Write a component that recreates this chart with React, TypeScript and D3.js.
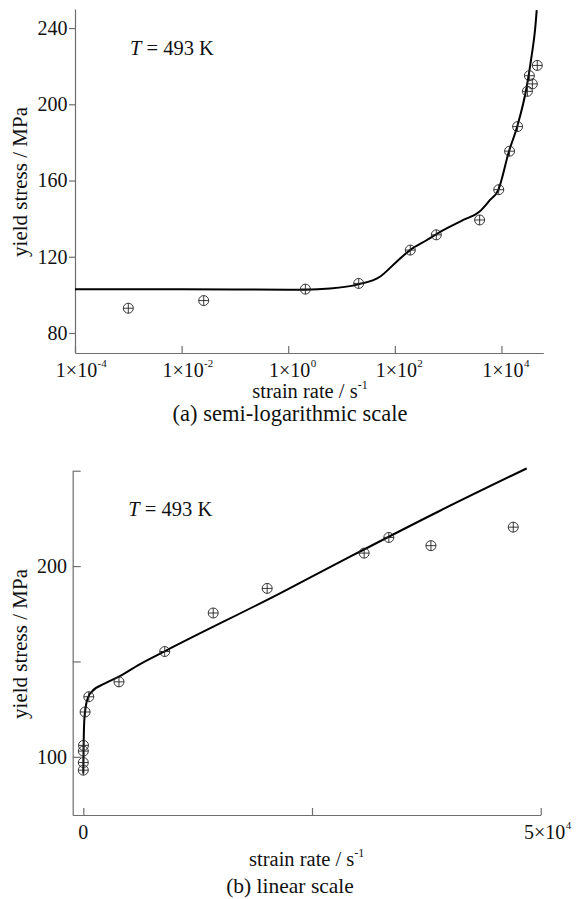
import { useEffect, useRef } from "react";
import * as d3 from "d3";

// measured points (same data in both panels)
const rate = [1e-3, 0.026, 2.1, 21, 195, 600, 3900, 8900, 14200, 20100, 30700, 33400, 38000, 47000];
const stress = [93, 97, 103, 106, 123.5, 131.5, 139.3, 155.2, 175.4, 188.3, 206.8, 215, 210.7, 220.4];

// model curve, panel (a)
const fitARate = [1e-4, 1e-2, 1, 2.07, 6.1, 20.6, 52.5, 108, 193, 400, 638, 1930, 3850, 6110, 8710, 13900, 19900, 29800, 37000, 42700, 45900];
const fitAStress = [102.9, 102.9, 102.7, 102.7, 103.3, 105.5, 109.5, 117.4, 123.5, 128.8, 132.3, 139.3, 143.6, 149.8, 155, 175.5, 188.6, 209.2, 225.8, 239, 249.4];

// model curve, panel (b)
const fitBRate = [0, 44, 109, 262, 547, 918, 2370, 4200, 6010, 9000, 21500, 29160, 38990, 48470];
const fitBStress = [91.3, 108.8, 119.2, 126.2, 131.5, 134.1, 138.5, 142.8, 148.1, 155.6, 185.7, 204.9, 229, 251.2];

const logTicks = [1e-4, 1e-2, 1, 1e2, 1e4];
const logExp = ["-4", "-2", "0", "2", "4"];
const yTicksA = [80, 120, 160, 200, 240];
const yTicksB = [100, 150, 200, 250];
const yLabelsB = [100, 200];
const xTicksB = [0, 25000, 50000];

const FONT = "Liberation Serif, Tinos, Times New Roman, DejaVu Serif, serif";
const AXIS = "#6e6e6e";

export default function App() {
  const svgRef = useRef<SVGSVGElement>(null);

  useEffect(() => {
    const svg = d3.select(svgRef.current);
    svg.selectAll("*").remove();

    const pts = rate.map((r, i) => ({ r, s: stress[i] }));

    const styleAxis = (ax: any) => {
      ax.select(".domain").attr("stroke", AXIS).attr("stroke-width", 1.2);
      ax.selectAll(".tick line").attr("stroke", AXIS).attr("stroke-width", 1.2);
      ax.selectAll("text").remove();
    };

    const marker = (g: any, cx: number, cy: number) => {
      const r = 5;
      const m = g.append("g").attr("stroke", "#222").attr("stroke-width", 0.9).attr("fill", "none");
      m.append("circle").attr("cx", cx).attr("cy", cy).attr("r", r);
      m.append("line").attr("x1", cx - r).attr("x2", cx + r).attr("y1", cy).attr("y2", cy);
      m.append("line").attr("x1", cx).attr("x2", cx).attr("y1", cy - r).attr("y2", cy + r);
    };

    const tempLabel = (x: number, y: number) => {
      const t = svg.append("text").attr("x", x).attr("y", y)
        .attr("font-family", FONT).attr("font-size", 20.5).attr("fill", "#111");
      t.append("tspan").attr("font-style", "italic").text("T");
      t.append("tspan").text(" = 493 K");
    };

    const xTitle = (cx: number, y: number) => {
      const t = svg.append("text").attr("x", cx).attr("y", y).attr("text-anchor", "middle")
        .attr("font-family", FONT).attr("font-size", 20.5).attr("fill", "#111");
      t.append("tspan").text("strain rate / s");
      t.append("tspan").attr("font-size", 12).attr("dy", -9).text("-1");
    };

    const yTitle = (cx: number, cy: number) => {
      svg.append("text").attr("transform", `translate(${cx},${cy}) rotate(-90)`)
        .attr("text-anchor", "middle").attr("font-family", FONT).attr("font-size", 21)
        .attr("fill", "#111").text("yield stress / MPa");
    };

    const caption = (cx: number, y: number, s: string, size: number) => {
      svg.append("text").attr("x", cx).attr("y", y).attr("text-anchor", "middle")
        .attr("font-family", FONT).attr("font-size", size).attr("fill", "#111").text(s);
    };

    // ---------- panel (a): semi-log ----------
    const xa = d3.scaleLog().domain([1e-4, 6.1e4]).range([75, 543.3]);
    const ya = d3.scaleLinear().domain([69.5, 250]).range([353, 9]);
    const ga = svg.append("g");

    ga.append("g").attr("transform", `translate(0,${ya.range()[0]})`)
      .call(d3.axisBottom(xa).tickValues(logTicks).tickSize(-7).tickSizeOuter(0).tickFormat(() => ""))
      .call(styleAxis);
    ga.append("g").attr("transform", `translate(${xa.range()[0]},0)`)
      .call(d3.axisLeft(ya).tickValues(yTicksA).tickSize(6).tickSizeOuter(0).tickFormat(() => ""))
      .call(styleAxis);

    logTicks.forEach((t, i) => {
      const cx = xa(t) + 1.5;
      ga.append("text").attr("x", cx).attr("y", 377).attr("text-anchor", "middle")
        .attr("font-family", FONT).attr("font-size", 20).attr("fill", "#111").text("1×10");
      ga.append("text").attr("x", cx + 21).attr("y", 367).attr("font-family", FONT)
        .attr("font-size", 11).attr("fill", "#111").text(logExp[i]);
    });
    yTicksA.forEach(t => {
      ga.append("text").attr("x", 67.5).attr("y", ya(t)).attr("dy", "0.34em").attr("text-anchor", "end")
        .attr("font-family", FONT).attr("font-size", 20).attr("fill", "#111").text(t);
    });

    const lineA = d3.line<number>().x((_, i) => xa(fitARate[i])).y(d => ya(d)).curve(d3.curveMonotoneX);
    ga.append("path").datum(fitAStress).attr("d", lineA).attr("fill", "none")
      .attr("stroke", "#000").attr("stroke-width", 2);
    pts.forEach(p => marker(ga, xa(p.r), ya(p.s)));

    tempLabel(130, 55);
    xTitle(310, 398);
    yTitle(27, 182);
    caption(290, 421, "(a) semi-logarithmic scale", 22.5);

    // ---------- panel (b): linear ----------
    const xb = d3.scaleLinear().domain([-1160, 50000]).range([72.7, 540.7]);
    const yb = d3.scaleLinear().domain([69.5, 250]).range([815, 470.7]);
    const gb = svg.append("g");

    gb.append("g").attr("transform", `translate(0,${yb.range()[0]})`)
      .call(d3.axisBottom(xb).tickValues(xTicksB).tickSize(-7).tickSizeOuter(0).tickFormat(() => ""))
      .call(styleAxis);
    gb.append("g").attr("transform", `translate(${xb.range()[0]},0)`)
      .call(d3.axisLeft(yb).tickValues(yTicksB).tickSize(-8).tickSizeOuter(0).tickFormat(() => ""))
      .call(styleAxis);

    yLabelsB.forEach(t => {
      gb.append("text").attr("x", 67).attr("y", yb(t)).attr("dy", "0.34em").attr("text-anchor", "end")
        .attr("font-family", FONT).attr("font-size", 20).attr("fill", "#111").text(t);
    });
    gb.append("text").attr("x", xb(0)).attr("y", 839).attr("text-anchor", "middle")
      .attr("font-family", FONT).attr("font-size", 20).attr("fill", "#111").text("0");
    gb.append("text").attr("x", xb(50000) + 4).attr("y", 839).attr("text-anchor", "middle")
      .attr("font-family", FONT).attr("font-size", 20).attr("fill", "#111").text("5×10");
    gb.append("text").attr("x", xb(50000) + 25).attr("y", 829).attr("font-family", FONT)
      .attr("font-size", 11).attr("fill", "#111").text("4");

    const lineB = d3.line<number>().x((_, i) => xb(fitBRate[i])).y(d => yb(d)).curve(d3.curveMonotoneX);
    gb.append("path").datum(fitBStress).attr("d", lineB).attr("fill", "none")
      .attr("stroke", "#000").attr("stroke-width", 2);
    pts.forEach(p => marker(gb, xb(p.r), yb(p.s)));

    tempLabel(128.3, 516);
    xTitle(306.7, 866);
    yTitle(27, 644);
    caption(290, 893, "(b) linear scale", 21.5);
  }, []);

  return (
    <svg ref={svgRef} width={576} height={899}
      style={{ position: "absolute", left: 0, top: 0, background: "#fff" }} />
  );
}
